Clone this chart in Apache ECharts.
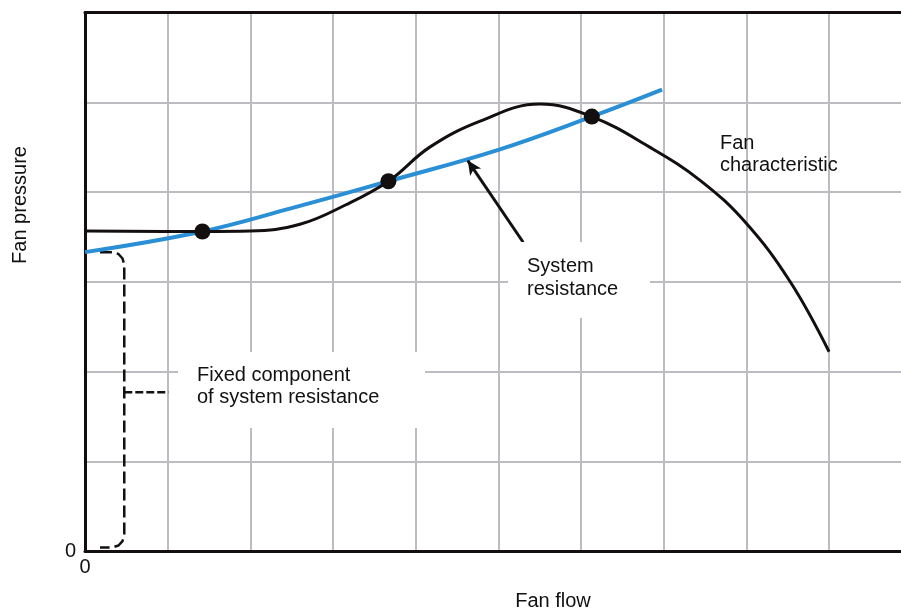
<!DOCTYPE html>
<html>
<head>
<meta charset="utf-8">
<script src="https://cdn.jsdelivr.net/npm/echarts@6/dist/echarts.min.js"></script>
<style>html,body{margin:0;padding:0;background:#fff}#c{width:901px;height:611px}</style>
</head>
<body>
<div id="c"></div>
<script>
// Fan characteristic curve (x = flow, y = pressure, arbitrary grid units)
var fanX = [0.02, 1.42, 2.00, 2.60, 3.15, 3.67, 4.17, 4.78, 5.50, 6.13, 6.83, 7.44, 7.99, 8.53, 9.00];
var fanY = [3.565, 3.56, 3.565, 3.64, 3.855, 4.12, 4.50, 4.79, 4.98, 4.84, 4.50, 4.13, 3.66, 3.00, 2.22];
// System resistance curve
var sysX = [0.00, 1.42, 2.50, 3.67, 5.00, 6.13, 6.98];
var sysY = [3.33, 3.56, 3.82, 4.12, 4.47, 4.84, 5.14];
// Operating points (intersections)
var opX = [1.42, 3.67, 6.13];
var opY = [3.56, 4.12, 4.84];
// Fixed-component bracket
var brX = [0.181, 0.327, 0.405, 0.454, 0.475, 0.475, 0.454, 0.405, 0.327, 0.181];
var brY = [3.328, 3.328, 3.309, 3.259, 3.187, 0.189, 0.111, 0.061, 0.039, 0.039];
var tickX = [0.475, 1.01];
var tickY = [1.77, 1.77];
// Arrow (tail -> head)
var arrowX = [5.30, 4.63];
var arrowY = [3.44, 4.35];
// Axis ranges (plot runs off the right edge of the picture)
var xMin = 0, xMax = 9.87, yMin = 0, yMax = 6;

function zip(a, b) { return a.map(function (v, i) { return [v, b[i]]; }); }

var FONT = '"Liberation Sans", Arial, Helvetica, sans-serif';
var AXC = '#140f0f';
var chart = echarts.init(document.getElementById('c'), null, { renderer: 'canvas' });
chart.setOption({
  animation: false,
  backgroundColor: '#fff',
  grid: { left: 85, top: 12.5, bottom: 60, right: 0, show: false },
  xAxis: [{
    type: 'value', min: xMin, max: xMax, interval: 1,
    axisLine: { show: true, onZero: false, lineStyle: { color: AXC, width: 3 } }, axisTick: { show: false },
    splitLine: { show: true, showMaxLine: false, lineStyle: { color: '#bdbdc1', width: 2 } },
    axisLabel: { margin: 6, fontSize: 20, color: '#111', fontFamily: FONT, showMaxLabel: false, formatter: function (v) { return v === 0 ? '0' : ''; } }
  }, {
    type: 'value', position: 'top', min: xMin, max: xMax, interval: 1,
    axisLine: { show: true, onZero: false, lineStyle: { color: AXC, width: 3 } }, axisTick: { show: false },
    splitLine: { show: false }, axisLabel: { show: false }
  }],
  yAxis: {
    type: 'value', min: yMin, max: yMax, interval: 1,
    axisLine: { show: true, onZero: false, lineStyle: { color: AXC, width: 3 } }, axisTick: { show: false },
    splitLine: { show: true, lineStyle: { color: '#bdbdc1', width: 2 } },
    axisLabel: { margin: 9, fontSize: 20, color: '#111', fontFamily: FONT, formatter: function (v) { return v === 0 ? '0' : ''; } }
  },
  series: [
    {
      type: 'line', data: zip(brX, brY), showSymbol: false, z: 3,
      lineStyle: { color: '#111', width: 2.5, type: [12, 5] }
    },
    {
      type: 'line', data: zip(tickX, tickY), showSymbol: false, z: 3,
      lineStyle: { color: '#111', width: 2.5, type: [8, 3] }
    },
    {
      type: 'line', data: zip(sysX, sysY), showSymbol: false, smooth: 0.4, z: 4,
      lineStyle: { color: '#2a8fd4', width: 4 },
      markLine: {
        silent: true, animation: false,
        symbol: ['none', 'arrow'], symbolSize: [10, 14],
        label: { show: false },
        lineStyle: { color: '#111', width: 3, type: 'solid' },
        data: [[{ coord: [arrowX[0], arrowY[0]] }, { coord: [arrowX[1], arrowY[1]] }]]
      }
    },
    {
      type: 'line', data: zip(fanX, fanY), showSymbol: false, smooth: 0.4, z: 5,
      lineStyle: { color: AXC, width: 3 }
    },
    {
      type: 'scatter', data: zip(opX, opY), symbol: 'circle', symbolSize: 16, z: 6,
      itemStyle: { color: AXC, opacity: 1 }
    }
  ],
  graphic: [
    { type: 'text', z: 20, style: { text: 'Fan pressure', x: 20, y: 205, fontSize: 20, fontFamily: FONT, fill: '#111', align: 'center', verticalAlign: 'middle' }, rotation: Math.PI / 2, originX: 20, originY: 205 },
    { type: 'text', z: 20, style: { text: 'Fan flow', x: 553, y: 601, fontSize: 20, fontFamily: FONT, fill: '#111', align: 'center', verticalAlign: 'middle' } },
    { type: 'rect', z: 10, shape: { x: 178, y: 352, width: 247, height: 76 }, style: { fill: '#fff' } },
    { type: 'text', z: 20, style: { text: 'Fixed component\nof system resistance', x: 197, y: 364, fontSize: 20, lineHeight: 22, fontFamily: FONT, fill: '#111', align: 'left', verticalAlign: 'top' } },
    { type: 'rect', z: 10, shape: { x: 508, y: 242, width: 142, height: 76 }, style: { fill: '#fff' } },
    { type: 'text', z: 20, style: { text: 'System\nresistance', x: 527, y: 255, fontSize: 20, lineHeight: 23, fontFamily: FONT, fill: '#111', align: 'left', verticalAlign: 'top' } },
    { type: 'text', z: 20, style: { text: 'Fan\ncharacteristic', x: 720, y: 132, fontSize: 20, lineHeight: 22, fontFamily: FONT, fill: '#111', align: 'left', verticalAlign: 'top' } }
  ]
});
</script>
</body>
</html>
